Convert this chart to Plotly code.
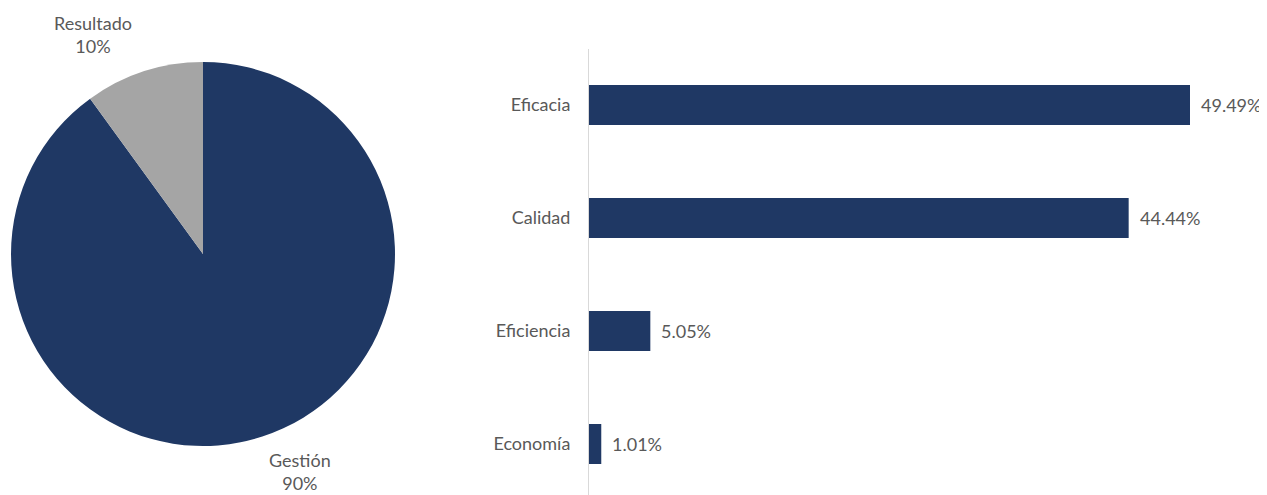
import plotly.graph_objects as go

OFF = 8  # default page body margin
W, H = 1267 - OFF, 495 - OFF

pie_labels = ["Gestión", "Resultado"]
pie_values = [90, 10]
pie_colors = ["#1F3864", "#A5A5A5"]

bar_categories = ["Eficacia", "Calidad", "Eficiencia", "Economía"]
bar_values = [49.49, 44.44, 5.05, 1.01]
bar_color = "#1F3864"

text_color = "#595959"
font_family = "Lato, 'Open Sans', sans-serif"
fs = 18


def px_x(x):
    return (x - OFF) / W


def px_y(y):
    return 1 - (y - OFF) / H


fig = go.Figure()

fig.add_trace(go.Pie(
    labels=pie_labels,
    values=pie_values,
    marker=dict(colors=pie_colors, line=dict(width=0)),
    sort=False,
    direction="clockwise",
    rotation=0,
    textinfo="none",
    hoverinfo="label+percent",
    showlegend=False,
    domain=dict(x=[px_x(11), px_x(395)], y=[px_y(446), px_y(62)]),
))

fig.add_trace(go.Bar(
    y=bar_categories,
    x=bar_values,
    orientation="h",
    marker=dict(color=bar_color, line=dict(width=0)),
    width=0.354,
    showlegend=False,
    xaxis="x",
    yaxis="y",
))

annotations = []
total = sum(pie_values)
pie_label_pos = {"Resultado": (93, 35), "Gestión": (300, 471)}
for lab, val in zip(pie_labels, pie_values):
    px, py = pie_label_pos[lab]
    annotations.append(dict(
        x=px_x(px), y=px_y(py), xref="paper", yref="paper",
        text=f"{lab}<br>{round(val / total * 100)}%",
        showarrow=False, xanchor="center", yanchor="middle",
        font=dict(color=text_color, size=fs, family=font_family),
        align="center",
    ))

for cat, val in zip(bar_categories, bar_values):
    annotations.append(dict(
        x=val, y=cat, xref="x", yref="y",
        text=f"{val:.2f}%", showarrow=False,
        xanchor="left", yanchor="middle", xshift=9,
        font=dict(color=text_color, size=fs, family=font_family),
    ))

x_px_per_unit = 601 / 49.49
y0_px = 48.5
fig.update_layout(
    width=W, height=H,
    margin=dict(l=0, r=0, t=0, b=0),
    paper_bgcolor="white", plot_bgcolor="white",
    font=dict(family=font_family, color=text_color, size=fs),
    xaxis=dict(
        domain=[px_x(589), 1.0],
        range=[0, (1267 - 589) / x_px_per_unit],
        showgrid=False, zeroline=False, showticklabels=False,
        showline=False, ticks="",
    ),
    yaxis=dict(
        domain=[0, px_y(y0_px)],
        range=[-0.5 + (495 - y0_px) / 113, -0.5],
        showgrid=False, zeroline=False,
        showline=True, linecolor="#D9D9D9", linewidth=1,
        ticks="", ticklabelstandoff=14,
        tickfont=dict(color=text_color, size=fs, family=font_family),
        type="category",
    ),
    annotations=annotations,
)

fig.write_html("out.html")
